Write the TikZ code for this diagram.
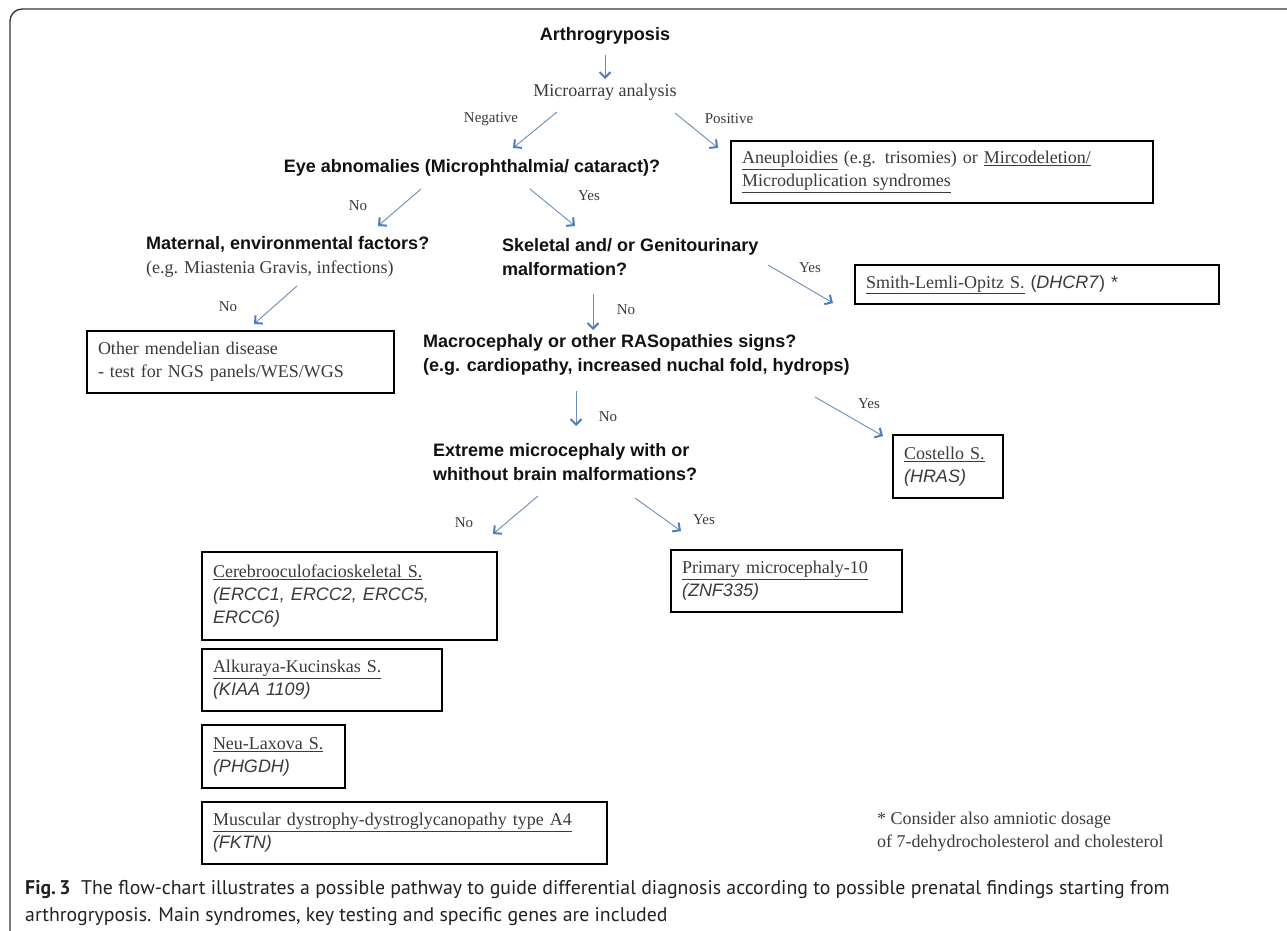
\documentclass[tikz,border=0pt]{standalone}
\usepackage{fontspec}
\setmainfont{Liberation Serif}
\setsansfont{Liberation Sans}
\newfontfamily\capfont{PT Sans}
\usetikzlibrary{arrows.meta}
\definecolor{arrline}{HTML}{6B8CB3}
\definecolor{arrhead}{HTML}{4A7EC0}
\definecolor{sertext}{HTML}{3A3A3A}
\definecolor{qtext}{HTML}{111111}
\definecolor{framec}{HTML}{333333}
\definecolor{captext}{HTML}{222222}
\newcommand{\genetxt}[1]{{\sffamily\itshape #1}}
\begin{document}
\begin{tikzpicture}[x=1pt,y=-1pt,
  qnode/.style={font=\fontsize{18}{24}\selectfont\sffamily\bfseries, text=qtext, align=left, inner sep=0pt},
  sernode/.style={font=\fontsize{18}{23}\selectfont\rmfamily, text=sertext, align=left, inner sep=0pt},
  labnode/.style={font=\fontsize{15}{18}\selectfont\rmfamily, text=sertext, inner sep=0pt},
  boxnode/.style={draw=black, line width=1.4pt, inner xsep=11pt, inner ysep=0pt, align=left,
    font=\fontsize{18}{23}\selectfont\rmfamily, text=sertext},
  arr/.style={draw=arrline, line width=0.9pt,
    -{Straight Barb[length=5.5pt,width=11pt,color=arrhead,line width=2pt]}},
  capnode/.style={font=\fontsize{19.8}{27.5}\selectfont\capfont, text=captext, align=left, inner sep=0pt}
]
\useasboundingbox (0,0) rectangle (1287,931);
% outer frame (open at right and bottom)
\draw[framec, line width=1.3pt, rounded corners=12pt] (10,931) -- (10,9) -- (1287,9);

% question / text nodes
\node[qnode] (arth) at (605,36) {Arthrogryposis};
\node[sernode] (micro) at (605,92) {Microarray analysis};
\node[qnode] (eye) at (472,168) {Eye abnomalies (Microphthalmia/ cataract)?};
\node[qnode, anchor=west] (mat) at (146,257) {Maternal, environmental factors?\\
  {\rmfamily\mdseries\color{sertext}(e.g. Miastenia Gravis, infections)}};
\node[qnode, anchor=west] (skel) at (502,257) {Skeletal and/ or Genitourinary\\malformation?};
\node[qnode, anchor=west] (macro) at (423,355) {Macrocephaly or other RASopathies signs?\\(e.g. cardiopathy, increased nuchal fold, hydrops)};
\node[qnode, anchor=west] (extr) at (433,462) {Extreme microcephaly with or\\whithout brain malformations?};

% boxes
\node[boxnode, minimum width=422pt, minimum height=62pt, text width=400pt] (aneu) at (942,172)
  {\mbox{\underline{Aneuploidies} (e.g. trisomies) or \underline{Mircodeletion/}}\\\underline{Microduplication syndromes}};
\node[boxnode, minimum width=364pt, minimum height=39pt, text width=342pt] (smith) at (1037,284.5)
  {\mbox{\underline{Smith-Lemli-Opitz S.} {\sffamily(\textit{DHCR7}) *}}};
\node[boxnode, minimum width=307pt, minimum height=62pt, text width=285pt] (other) at (240.5,362)
  {Other mendelian disease\\\mbox{- test for NGS panels/WES/WGS}};
\node[boxnode, minimum width=110pt, minimum height=63pt, text width=88pt] (cost) at (948,466.5)
  {\mbox{\underline{Costello S.}}\\\genetxt{(HRAS)}};
\node[boxnode, minimum width=295pt, minimum height=88pt, text width=273pt] (cereb) at (349.5,596)
  {\mbox{\underline{Cerebrooculofacioskeletal S.}}\\\mbox{\genetxt{(ERCC1, ERCC2, ERCC5,}}\\\genetxt{ERCC6)}};
\node[boxnode, minimum width=231pt, minimum height=62pt, text width=209pt] (prim) at (786.5,581)
  {\mbox{\underline{Primary microcephaly-10}}\\\genetxt{(ZNF335)}};
\node[boxnode, minimum width=240pt, minimum height=62pt, text width=218pt] (alk) at (322,680)
  {\mbox{\underline{Alkuraya-Kucinskas S.}}\\\genetxt{(KIAA 1109)}};
\node[boxnode, minimum width=143pt, minimum height=63pt, text width=121pt] (neu) at (273.5,756.5)
  {\mbox{\underline{Neu-Laxova S.}}\\\genetxt{(PHGDH)}};
\node[boxnode, minimum width=405pt, minimum height=62pt, text width=383pt] (musc) at (404.5,833)
  {\mbox{\underline{Muscular dystrophy-dystroglycanopathy type A4}}\\\genetxt{(FKTN)}};

% footnote
\node[sernode, anchor=west] (foot) at (877,832) {* Consider also amniotic dosage\\of 7-dehydrocholesterol and cholesterol};

% branch labels
\node[labnode] (lneg) at (491,119) {Negative};
\node[labnode] (lpos) at (729,119) {Positive};
\node[labnode] (lno1) at (358,206) {No};
\node[labnode] (lyes1) at (589,196) {Yes};
\node[labnode] (lno2) at (228,307) {No};
\node[labnode] (lyes2) at (810,268) {Yes};
\node[labnode] (lno3) at (626,310) {No};
\node[labnode] (lyes3) at (869,404) {Yes};
\node[labnode] (lno4) at (608,417) {No};
\node[labnode] (lno5) at (464,523) {No};
\node[labnode] (lyes5) at (704,520) {Yes};

% arrow end points
\coordinate (a1s) at (605,55);  \coordinate (a1e) at (605,79);
\coordinate (a2s) at (557,112); \coordinate (a2e) at (513,148);
\coordinate (a3s) at (675,113); \coordinate (a3e) at (718,148);
\coordinate (a4s) at (421,189); \coordinate (a4e) at (378,226);
\coordinate (a5s) at (530,189); \coordinate (a5e) at (575,226);
\coordinate (a6s) at (297,286); \coordinate (a6e) at (254,324);
\coordinate (a7s) at (768,265); \coordinate (a7e) at (833,303);
\coordinate (a8s) at (593,294); \coordinate (a8e) at (593,330);
\coordinate (a9s) at (576,391); \coordinate (a9e) at (576,426);
\coordinate (a10s) at (815,397); \coordinate (a10e) at (883,436);
\coordinate (a11s) at (538,496); \coordinate (a11e) at (493,534);
\coordinate (a12s) at (635,498); \coordinate (a12e) at (681,531);

\draw[arr] (a1s) -- (a1e);
\draw[arr] (a2s) -- (a2e);
\draw[arr] (a3s) -- (a3e);
\draw[arr] (a4s) -- (a4e);
\draw[arr] (a5s) -- (a5e);
\draw[arr] (a6s) -- (a6e);
\draw[arr] (a7s) -- (a7e);
\draw[arr] (a8s) -- (a8e);
\draw[arr] (a9s) -- (a9e);
\draw[arr] (a10s) -- (a10e);
\draw[arr] (a11s) -- (a11e);
\draw[arr] (a12s) -- (a12e);

% caption
\node[capnode, anchor=west] (cap) at (25,903) {{\bfseries Fig.\,3}\ \ The flow-chart illustrates a possible pathway to guide differential diagnosis according to possible prenatal findings starting from\\arthrogryposis. Main syndromes, key testing and specific genes are included};
\end{tikzpicture}
\end{document}
